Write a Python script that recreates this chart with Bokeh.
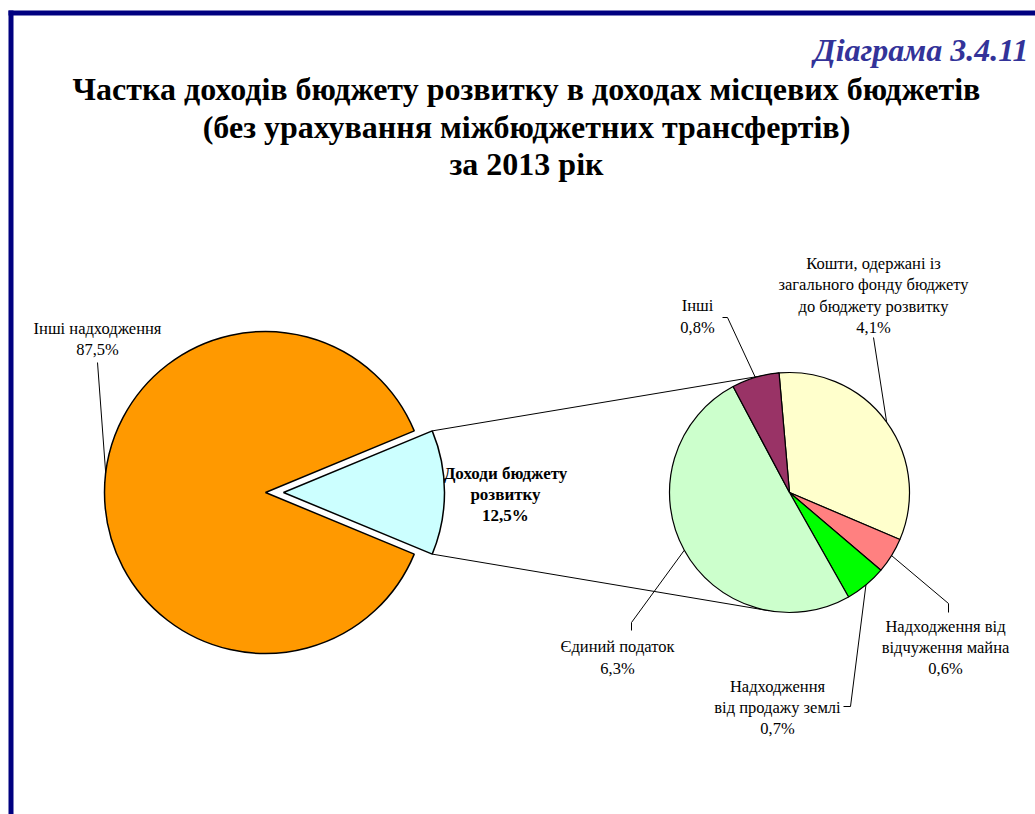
import numpy as np
from bokeh.plotting import figure
from bokeh.models import Range1d
from bokeh.core.properties import value
from bokeh.embed import file_html
from bokeh.resources import INLINE

# ---- data ----
main_labels = ["Інші надходження", "Доходи бюджету розвитку"]
main_values = [87.5, 12.5]
main_colors = ["#FF9900", "#CCFFFF"]

sub_labels = ["Кошти, одержані із загального фонду бюджету до бюджету розвитку",
              "Надходження від відчуження майна",
              "Надходження від продажу землі",
              "Єдиний податок",
              "Інші"]
sub_values = [4.1, 0.6, 0.7, 6.3, 0.8]
sub_colors = ["#FFFFCC", "#FF8080", "#00FF00", "#CCFFCC", "#993366"]

title_lines = ["Частка доходів бюджету розвитку в доходах місцевих бюджетів",
               "(без урахування міжбюджетних трансфертів)",
               "за 2013 рік"]
diagram_no = "Діаграма 3.4.11"

def pct(v):
    return ("%.1f%%" % v).replace(".", ",")

W, H = 1035, 814
def Y(yi):
    return H - yi

p = figure(width=W, height=H, output_backend="svg", toolbar_location=None,
           x_range=Range1d(0, W), y_range=Range1d(0, H),
           min_border=0, outline_line_color=None)
p.axis.visible = False
p.grid.visible = False
p.background_fill_color = "white"
p.border_fill_color = "white"

SERIF = value("Liberation Serif")

# frame
p.quad(left=[8, 8], right=[W, 13], top=[Y(10), Y(10)], bottom=[Y(15), 0],
       fill_color="#000080", line_color=None)

# ---- main pie ----
mcx, mcy, mR = 265, Y(492), 161
explode = 18
tot = sum(main_values)
small_span = 2 * np.pi * main_values[1] / tot
big_start, big_end = small_span / 2, 2 * np.pi - small_span / 2

# connector lines (drawn first, under pies)
scx, scy, sR = 789, Y(492), 120
sub_start = np.deg2rad(95)
ex = mcx + explode
c_top = (ex + mR * np.cos(small_span / 2), mcy + mR * np.sin(small_span / 2))
c_bot = (ex + mR * np.cos(-small_span / 2), mcy + mR * np.sin(-small_span / 2))
t_top = (scx + sR * np.cos(sub_start), scy + sR * np.sin(sub_start))
a_b = np.deg2rad(260)
t_bot = (scx + sR * np.cos(a_b), scy + sR * np.sin(a_b))
p.segment(x0=[c_top[0], c_bot[0]], y0=[c_top[1], c_bot[1]],
          x1=[t_top[0], t_bot[0]], y1=[t_top[1], t_bot[1]],
          line_color="black", line_width=1)

p.wedge(x=[mcx, ex], y=[mcy, mcy], radius=mR,
        start_angle=[big_start, -small_span / 2], end_angle=[big_end, small_span / 2],
        fill_color=main_colors, line_color="black", line_width=1.5)

# ---- secondary pie ----
stot = sum(sub_values)
starts, ends, mids = [], [], []
cur = sub_start
for v in sub_values:
    span = 2 * np.pi * v / stot
    starts.append(cur - span)
    ends.append(cur)
    mids.append(cur - span / 2)
    cur -= span
p.wedge(x=scx, y=scy, radius=sR, start_angle=starts, end_angle=ends,
        fill_color=sub_colors, line_color="black", line_width=1.2)

# ---- leader lines ----
def edge(cx, cy, r, a):
    return (cx + r * np.cos(a), cy + r * np.sin(a))

leaders = []
e = edge(mcx, mcy, mR, np.deg2rad(173))
leaders.append(([97, e[0]], [Y(362), e[1]]))
e = edge(scx, scy, sR, mids[0])
leaders.append(([873, e[0]], [Y(337), e[1]]))
e = edge(scx, scy, sR, mids[1])
leaders.append(([948, 948, e[0]], [Y(612), Y(603), e[1]]))
e = edge(scx, scy, sR, mids[2])
leaders.append(([843, 850, e[0]], [Y(706), Y(706), e[1]]))
e = edge(scx, scy, sR, mids[3])
leaders.append(([631, 631, e[0]], [Y(630), Y(622), e[1]]))
e = edge(scx, scy, sR, mids[4])
leaders.append(([722, 727, e[0]], [Y(317), Y(317), e[1]]))
p.multi_line(xs=[l[0] for l in leaders], ys=[l[1] for l in leaders],
             line_color="black", line_width=1)

# ---- labels ----
lab_texts = [
    "Інші надходження\n" + pct(main_values[0]),
    "Кошти, одержані із\nзагального фонду бюджету\nдо бюджету розвитку\n" + pct(sub_values[0]),
    "Надходження від\nвідчуження майна\n" + pct(sub_values[1]),
    "Надходження\nвід продажу землі\n" + pct(sub_values[2]),
    "Єдиний податок\n" + pct(sub_values[3]),
    "Інші\n" + pct(sub_values[4]),
]
lab_x = [97, 873, 945, 777, 617, 697]
lab_y = [Y(338.5), Y(295), Y(647), Y(707), Y(657), Y(316)]
p.text(x=lab_x, y=lab_y, text=lab_texts, text_font=SERIF, text_font_size="16.5px",
       text_align="center", text_baseline="middle", text_line_height=1.12,
       text_color="black")

p.text(x=[505], y=[Y(494)], text=["Доходи бюджету\nрозвитку\n" + pct(main_values[1])],
       text_font=SERIF, text_font_size="17px", text_font_style="bold",
       text_align="center", text_baseline="middle", text_line_height=1.12,
       text_color="black")

# ---- titles ----
p.text(x=[526, 526, 526], y=[Y(88), Y(126), Y(163)], text=title_lines,
       text_font=SERIF, text_font_size="32px", text_font_style="bold",
       text_align="center", text_baseline="middle", text_color="black")
p.text(x=[1028], y=[Y(49)], text=[diagram_no], text_font=SERIF,
       text_font_size="32px", text_font_style="bold italic",
       text_align="right", text_baseline="middle", text_color="#333399")

open("out.html", "w").write(file_html(p, INLINE))
